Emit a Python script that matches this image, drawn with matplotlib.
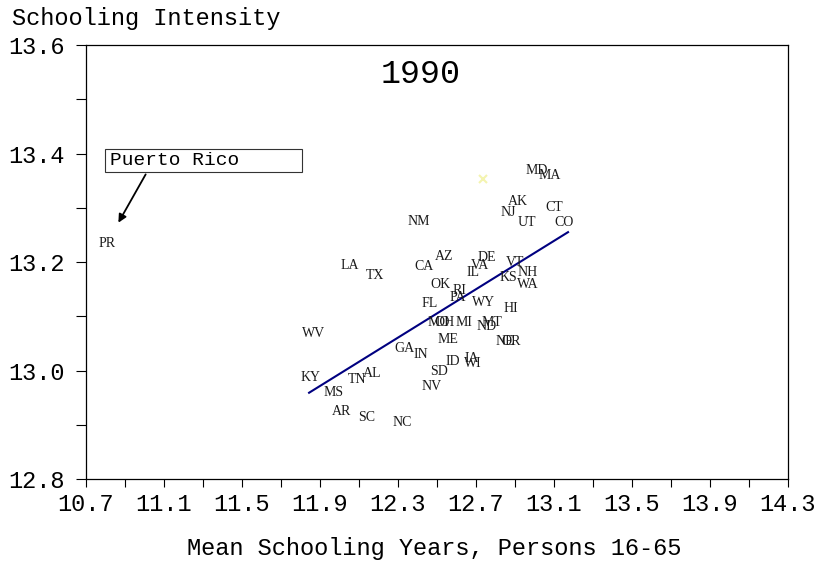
import numpy as np
import matplotlib
matplotlib.use('Agg')
import matplotlib.pyplot as plt
from matplotlib.patches import Rectangle

# state labels placed at (mean schooling years, schooling intensity)
states = ['MD', 'MA', 'AK', 'NJ', 'UT', 'CT', 'CO', 'NM', 'AZ', 'CA', 'LA', 'TX',
          'DE', 'VA', 'IL', 'VT', 'NH', 'KS', 'OK', 'RI', 'PA', 'WY', 'WA', 'HI',
          'FL', 'MO', 'OH', 'MI', 'ND', 'MT', 'WV', 'ME', 'NE', 'OR', 'GA', 'IN',
          'ID', 'IA', 'WI', 'SD', 'KY', 'AL', 'TN', 'MS', 'NV', 'AR', 'SC', 'NC', 'PR']
school_years = [13.013, 13.079, 12.915, 12.864, 12.961, 13.100, 13.151, 12.408, 12.536, 12.433, 12.054, 12.182,
                12.756, 12.720, 12.685, 12.900, 12.967, 12.864, 12.520, 12.613, 12.608, 12.741, 12.967, 12.879,
                12.464, 12.510, 12.536, 12.638, 12.756, 12.782, 11.869, 12.556, 12.849, 12.879, 12.331, 12.418,
                12.582, 12.679, 12.685, 12.510, 11.849, 12.167, 12.090, 11.972, 12.474, 12.013, 12.141, 12.320, 10.808]
intensity = [13.368, 13.360, 13.312, 13.292, 13.272, 13.300, 13.272, 13.274, 13.211, 13.191, 13.193, 13.176,
             13.209, 13.193, 13.180, 13.200, 13.180, 13.172, 13.158, 13.147, 13.134, 13.126, 13.158, 13.115,
             13.123, 13.089, 13.089, 13.089, 13.082, 13.088, 13.069, 13.058, 13.053, 13.053, 13.040, 13.030,
             13.016, 13.023, 13.012, 12.999, 12.988, 12.994, 12.983, 12.960, 12.970, 12.924, 12.914, 12.905, 13.235]

# faint marker
mark_x = [12.736]
mark_y = [13.353]

# fitted line end points
fit_x = [11.844, 13.172]
fit_y = [12.959, 13.255]

# callout
callout_text = 'Puerto Rico'
callout_tip = (10.859, 13.268)
callout_start = (11.013, 13.366)

mono = 'Liberation Mono'
serif = 'Liberation Serif'

fig = plt.figure(figsize=(8.2, 5.63), dpi=100)
ax = fig.add_axes([86/820, 1-479/563, 702/820, 434/563])

ax.plot(fit_x, fit_y, color='#000080', lw=1.5)
ax.plot(mark_x, mark_y, 'x', color='#f4f4b0', ms=6, mew=1.5)

for s, xv, yv in zip(states, school_years, intensity):
    ax.text(xv, yv, s, fontsize=10, family=serif, ha='center', va='center', color='#1a1a1a')

ax.add_patch(Rectangle((0.027, 0.707), 0.281, 0.053, transform=ax.transAxes,
                       fill=False, lw=0.8, ec='#333333'))
ax.text(0.034, 0.733, callout_text, transform=ax.transAxes, family=mono, fontsize=14,
        ha='left', va='center')
ax.annotate('', xy=callout_tip, xytext=callout_start,
            arrowprops=dict(arrowstyle='-|>', color='black', lw=1.3, mutation_scale=12))

ax.text(0.476, 0.931, '1990', transform=ax.transAxes, family=mono, fontsize=24,
        ha='center', va='center')

ax.set_xlim(10.7, 14.3)
ax.set_ylim(12.8, 13.6)
ax.set_xticks(np.arange(10.7, 14.31, 0.4))
ax.set_xticks(np.arange(10.7, 14.31, 0.2), minor=True)
ax.set_yticks(np.arange(12.8, 13.61, 0.2))
ax.set_yticks(np.arange(12.8, 13.61, 0.1), minor=True)
ax.set_xticklabels(['%.1f' % v for v in np.arange(10.7, 14.31, 0.4)])
ax.set_yticklabels(['%.1f' % v for v in np.arange(12.8, 13.61, 0.2)])
for lab in ax.get_xticklabels() + ax.get_yticklabels():
    lab.set_family(mono)
    lab.set_fontsize(17)
ax.tick_params(axis='x', which='both', direction='out', length=6, width=0.8, pad=4)
ax.tick_params(axis='y', which='both', direction='out', length=7, width=0.8, pad=8.5)
for sp in ax.spines.values():
    sp.set_linewidth(0.9)

fig.text(12/820, 1-18/563, 'Schooling Intensity', family=mono, fontsize=17, ha='left', va='center')
fig.text(434/820, 1-548/563, 'Mean Schooling Years, Persons 16-65', family=mono, fontsize=17,
         ha='center', va='center')

fig.savefig('out.png', dpi=100)
